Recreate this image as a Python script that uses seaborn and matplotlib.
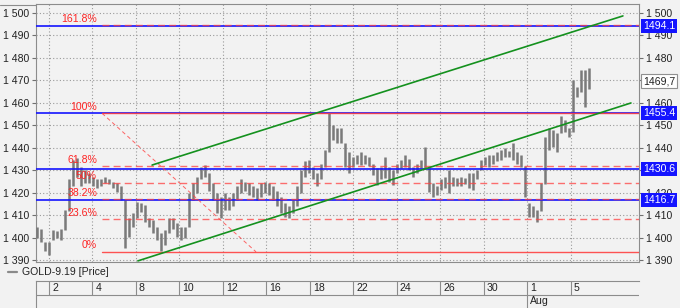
import numpy as np
import pandas as pd
import matplotlib
matplotlib.use("Agg")
import matplotlib.pyplot as plt
from matplotlib.lines import Line2D
from matplotlib.ticker import FuncFormatter, FixedLocator
import seaborn as sns

# ---------------- data ----------------
bar_high = [1405, 1404, 1398, 1398, 1403.5, 1403, 1404, 1412.5, 1426, 1434.5,
            1435.5, 1431.5, 1430, 1429, 1427, 1426, 1426, 1427, 1426, 1425,
            1424.5, 1423, 1417, 1409, 1411, 1416, 1415.5, 1414.5, 1409, 1408,
            1405, 1402, 1403.5, 1409, 1409, 1406.5, 1405, 1405, 1420, 1424.5,
            1427, 1431.5, 1432.5, 1429, 1424.5, 1420, 1418, 1420, 1418, 1420,
            1423, 1426, 1425, 1424.5, 1423, 1422, 1424.5, 1425, 1424.5, 1423,
            1421, 1418, 1415.5, 1414, 1417, 1423, 1430, 1434, 1434.5, 1431.5,
            1429, 1433, 1439, 1455.5, 1450, 1449, 1449, 1442, 1438, 1436,
            1437, 1438, 1437, 1436, 1433, 1431, 1431.5, 1436, 1431.5, 1430,
            1433, 1434.5, 1437, 1435, 1431.5, 1433, 1434.5, 1440.5, 1431, 1424.5,
            1423, 1426, 1427, 1430, 1427, 1426.5, 1427, 1426.5, 1429, 1429,
            1430, 1434.5, 1436, 1437, 1437, 1438, 1439, 1440, 1438.5, 1442,
            1438, 1437, 1432, 1415.5, 1414, 1412.5, 1424.5, 1445, 1449, 1448,
            1446.5, 1454, 1452.5, 1449, 1470, 1467, 1474.5, 1474.5, 1475.5]
bar_low = [1400, 1398, 1394, 1392.5, 1399, 1400, 1399, 1403.5, 1412, 1423,
           1427, 1423, 1424.5, 1424.5, 1423, 1422, 1423, 1424.5, 1424, 1422,
           1420.5, 1417, 1395.5, 1400.5, 1405, 1409, 1411.5, 1407, 1405, 1402,
           1399, 1394, 1397, 1402, 1404, 1400.5, 1399, 1400, 1405, 1417,
           1420, 1426, 1427, 1421, 1417, 1411, 1409, 1412.5, 1412.5, 1414,
           1417, 1420, 1421, 1419, 1418, 1417, 1418, 1420, 1419, 1417,
           1414, 1411, 1409.5, 1409, 1411, 1414, 1420, 1427, 1429, 1426,
           1423, 1426, 1431.5, 1438, 1443.5, 1442, 1442, 1431.5, 1429, 1431.5,
           1433, 1432.5, 1433, 1432, 1428, 1423.5, 1426, 1426.5, 1425, 1423.5,
           1429, 1431, 1431.5, 1430, 1427, 1429, 1431, 1431, 1420.5, 1418,
           1419, 1421.5, 1422, 1420, 1423, 1423, 1423, 1424, 1422, 1421.5,
           1426, 1430, 1432.5, 1431.5, 1433, 1434, 1434.5, 1436, 1436, 1434.5,
           1433, 1431.5, 1418, 1409.5, 1409.5, 1407, 1412, 1424, 1439, 1440.5,
           1438, 1446.5, 1447, 1445, 1447, 1462.5, 1465, 1458, 1466]
bar_start_day = 0.448      # trading-day index of first bar (Jul 2 = 1)
bar_step_day = 0.1839      # time between bars, in trading days
last_price = 1469.7

blue_levels = [1494.1, 1455.4, 1430.6, 1416.7]
fib_values = [1393.8, 1408.3, 1417.3, 1424.6, 1431.9, 1455.4, 1494.6]
fib_labels = ['0%', '23.6%', '38.2%', '50%', '61.8%', '100%', '161.8%']
fib_solid = [True, False, False, False, False, True, False]
fib_start_day = 3.44
fib_end_day = 10.52

upper_days = [5.74, 27.39]
upper_vals = [1432.4, 1498.7]
lower_days = [5.09, 27.76]
lower_vals = [1389.8, 1460.0]

y_ticks = [1390, 1400, 1410, 1420, 1430, 1440, 1450, 1460, 1470, 1480, 1490, 1500]
hidden_right = [1430, 1470]   # covered by value tags in the original

tick_days = [1, 3, 5, 7, 9, 11, 13, 15, 17, 19, 21, 23, 25]
tick_labels = ['2', '4', '8', '10', '12', '16', '18', '22', '24', '26', '30', '1', '5']
month_day = 23
month_label = 'Aug'
series_name = 'GOLD-9.19 [Price]'

# ---------------- style ----------------
sns.set_style("white")
plt.rcParams['font.family'] = ['Liberation Sans', 'DejaVu Sans']
FS = 7.6
BG = '#f2f2f2'
RED = '#ff4040'
BLUE = '#1414ff'
GREEN = '#14911e'

W, H = 680, 308
fig = plt.figure(figsize=(W / 100, H / 100), dpi=100, facecolor=BG)
ax = fig.add_axes([36 / W, 46 / H, 603 / W, 258 / H], facecolor=BG)

xmin, xmax = 0.402, 28.13
ax.set_xlim(xmin, xmax)
ax.set_ylim(1389.3, 1504)

# grid
ax.xaxis.set_major_locator(FixedLocator(tick_days))
ax.yaxis.set_major_locator(FixedLocator(y_ticks))
ax.grid(True, color='#9a9a9a', linestyle=(0, (1, 2)), lw=0.8, zorder=0)
ax.set_axisbelow(True)
ax.tick_params(axis='x', bottom=False, labelbottom=False)
ax.tick_params(axis='y', left=True, right=True, labelleft=True, labelright=True,
               length=3, width=0.8, color='#707070', pad=2, labelsize=FS,
               labelcolor='#222222')
ax.yaxis.set_major_formatter(FuncFormatter(lambda v, p: f"{int(v)//1000} {int(v)%1000:03d}"))
for s in ax.spines.values():
    s.set_color('#8c8c8c')
    s.set_linewidth(0.8)

# price bars
t = bar_start_day + bar_step_day * np.arange(len(bar_high))
ax.vlines(t, bar_low, bar_high, color='#7a7a7a', lw=1.8, zorder=3)

# blue horizontal levels
for v in blue_levels:
    ax.axhline(v, color=BLUE, lw=1.2, zorder=4)

# fib levels
for v, lab, solid in zip(fib_values, fib_labels, fib_solid):
    if solid:
        ax.plot([fib_start_day, xmax], [v, v], color=RED, lw=1.0, alpha=0.9, zorder=5)
    else:
        ax.plot([fib_start_day, xmax], [v, v], color=RED, lw=1.0, ls=(0, (5, 3)),
                alpha=0.75, zorder=5)
    ax.annotate(lab, (fib_start_day, v), xytext=(-5, 1.5), textcoords='offset pixels',
                ha='right', va='bottom', color='#ff2424', fontsize=FS, zorder=6)
ax.plot([fib_start_day, fib_end_day], [fib_values[-2], fib_values[0]], color=RED,
        lw=0.7, ls=(0, (4, 3)), alpha=0.8, zorder=5)

# channel lines
sns.lineplot(x=upper_days, y=upper_vals, ax=ax, color=GREEN, lw=1.2, zorder=6)
sns.lineplot(x=lower_days, y=lower_vals, ax=ax, color=GREEN, lw=1.2, zorder=6)

# right-side value tags
for v in blue_levels:
    ax.annotate(f"{v:.1f}", (1, v), xycoords=('axes fraction', 'data'),
                xytext=(4, 0), textcoords='offset pixels', ha='left', va='center',
                color='white', fontsize=FS, zorder=10, annotation_clip=False,
                bbox=dict(boxstyle='square,pad=0.18', fc=BLUE, ec='none'))
ax.annotate(f"{last_price:.1f}".replace('.', ','), (1, last_price),
            xycoords=('axes fraction', 'data'), xytext=(4, 0),
            textcoords='offset pixels', ha='left', va='center', color='#222222',
            fontsize=FS, zorder=10, annotation_clip=False,
            bbox=dict(boxstyle='square,pad=0.18', fc='white', ec='#909090', lw=0.8))

# right tick labels hidden behind tags in the original
for tk, v in zip(ax.yaxis.get_major_ticks(), y_ticks):
    if v in hidden_right:
        tk.label2.set_visible(False)

# legend row
ly = 1 - 272 / H
fig.add_artist(Line2D([8 / W, 17 / W], [ly, ly], color='#8a8a8a', lw=1.6))
fig.text(22 / W, ly, series_name, fontsize=FS, va='center', ha='left', color='#222222')

# top rule
fig.add_artist(Line2D([0, 36 / W], [1 - 4.5 / H, 1 - 4.5 / H], color='#8c8c8c', lw=0.8))

# date panel
ax2 = fig.add_axes([36 / W, 0, 603 / W, 27 / H], facecolor=BG)
ax2.set_xlim(xmin, xmax)
ax2.set_ylim(0, 1)
ax2.set_xticks([])
ax2.set_yticks([])
for k, s in ax2.spines.items():
    s.set_visible(k in ('top', 'left'))
    s.set_color('#8c8c8c')
    s.set_linewidth(0.8)
mid = 0.5
ax2.axhline(mid, color='#8c8c8c', lw=0.8)
for d, lab in zip(tick_days, tick_labels):
    ax2.plot([d, d], [mid, 1], color='#8c8c8c', lw=0.8)
    ax2.annotate(lab, (d, 0.75), xytext=(3, 0), textcoords='offset pixels',
                 ha='left', va='center', fontsize=FS, color='#222222')
ax2.plot([month_day, month_day], [0, mid], color='#8c8c8c', lw=0.8)
ax2.annotate(month_label, (month_day, 0.25), xytext=(3, 0), textcoords='offset pixels',
             ha='left', va='center', fontsize=FS, color='#222222')

fig.savefig('out.png', dpi=100, facecolor=BG)
